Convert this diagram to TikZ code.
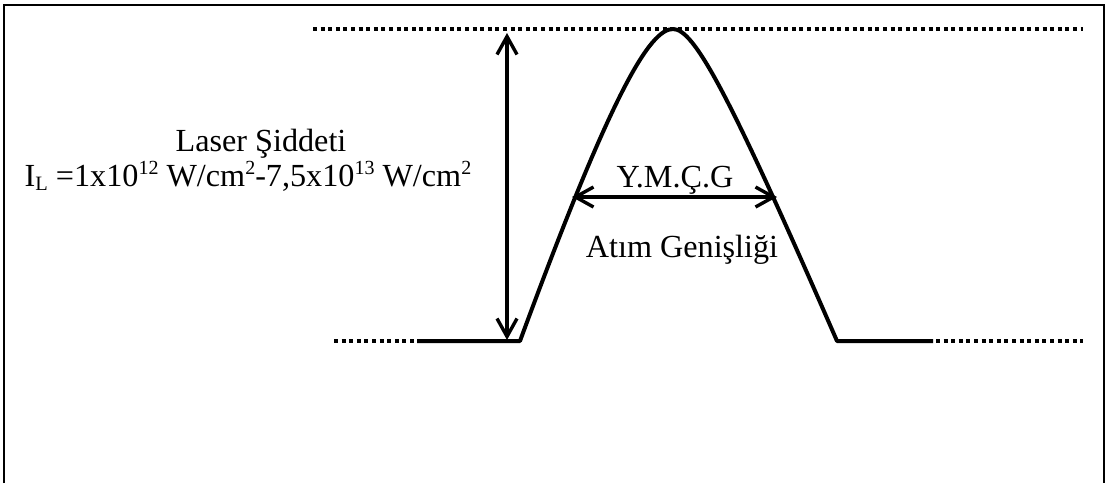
\documentclass[tikz,border=0pt]{standalone}
\usepackage{fontspec}
\setmainfont{Liberation Serif}
\usepackage{tikz}
\usetikzlibrary{positioning,arrows.meta}
\tikzset{
    pulse/.style={line width=2pt, line join=round},
    dotline/.style={line width=1.8pt, dash pattern=on 2pt off 1.8pt},
    span/.style={line width=1.7pt, {Straight Barb[length=9pt,width=10pt]}-{Straight Barb[length=9pt,width=10pt]}},
    txt/.style={font=\fontsize{16.1}{19}\selectfont, inner sep=0pt, anchor=base}
}
\newcommand{\sups}[1]{\raisebox{0.35em}{\fontsize{10}{10}\selectfont #1}}
\newcommand{\subs}[1]{\raisebox{-0.15em}{\fontsize{10.2}{10}\selectfont #1}}

\begin{document}
\begin{tikzpicture}[x=0.5pt, y=-0.5pt]
    \useasboundingbox (0,0) rectangle (1109,483);
    \draw[line width=0.9pt] (4,483) -- (4,5) -- (1104,5) -- (1104,483);

    \coordinate (top l) at (313,29);
    \coordinate (top r) at (1083,29);
    \coordinate (peak) at (673,29);
    \coordinate (rise) at (520,341);
    \coordinate (fall) at (837,341);
    \coordinate (dot l) at (334,341);
    \coordinate (flat l) at (417,341);
    \coordinate (flat r) at (933,341);
    \coordinate (dot r0) at (936,341);
    \coordinate (dot r) at (1083,341);
    \coordinate (amp top) at (507,33);
    \coordinate (amp bot) at (507,340);
    \coordinate (fw l) at (572,197);
    \coordinate (fw r) at (777,197);

    \draw[dotline] (top l) -- (top r);
    \draw[dotline] (dot l) -- (flat l);
    \draw[dotline] (dot r0) -- (dot r);

    \draw[pulse] (flat l) -- (rise) .. controls (612,91) and (650,29) .. (peak)
        .. controls (694,29) and (728,91) .. (fall) -- (flat r);

    \draw[span] (amp top) -- (amp bot);
    \draw[span] (fw l) -- (fw r);

    \node[txt] (name) at (261,151) {Laser Şiddeti};
    \node[txt] (range) at (248,186) {I\subs{L} =1x10\sups{12} W/cm\sups{2}-7,5x10\sups{13} W/cm\sups{2}};
    \node[txt] (fwhm) at (675,187) {Y.M.Ç.G};
    \node[txt] (width) at (682,257) {Atım Genişliği};
\end{tikzpicture}
\end{document}
